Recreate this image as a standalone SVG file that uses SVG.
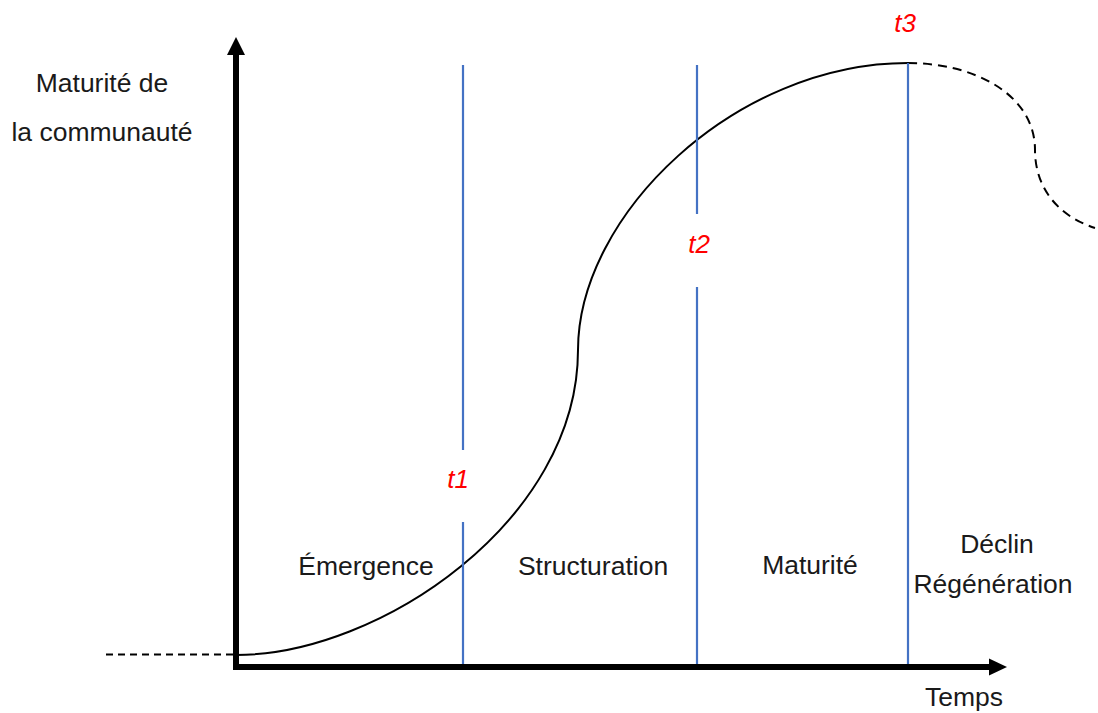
<svg xmlns="http://www.w3.org/2000/svg" width="1098" height="713" viewBox="0 0 1098 713">
<style>
.axis{stroke:#000;stroke-width:6;fill:none}
.head{fill:#000}
.curve{stroke:#000;stroke-width:2;fill:none}
.dash{stroke:#000;stroke-width:2;fill:none;stroke-dasharray:9 6}
.dashl{stroke:#000;stroke-width:2;fill:none;stroke-dasharray:7 5}
.tline{stroke:#4472C4;stroke-width:2.2;fill:none}
.lbl{font-family:"Liberation Sans",Arial,sans-serif;font-size:26.5px;fill:#1a1a1a;text-anchor:middle}
.tlbl{font-family:"Liberation Sans",Arial,sans-serif;font-size:26px;font-style:italic;fill:#FF0000;text-anchor:middle}
</style>
<rect width="1098" height="713" fill="#fff"/>
<g id="connectors">
  <path class="dashl" d="M106,654.5 H236"/>
  <path class="curve" d="M236,655 C380,655 578,520 578,350 C578,215 735,63 908,63"/>
  <path class="dash" d="M908,63 C975,63 1035,95 1035,150 C1035,185 1055,215 1095,228"/>
  <path class="tline" d="M463,65 V450 M463,522 V667"/>
  <path class="tline" d="M697,65 V214 M697,287 V667"/>
  <path class="tline" d="M908,63 V667"/>
</g>
<g id="axes">
  <path class="axis" d="M236,54 V670 M233,667 H990"/>
  <polygon class="head" points="236,37 245,55 227,55"/>
  <polygon class="head" points="1007,667 989,658.5 989,675.5"/>
</g>
<g id="y-label">
  <text class="lbl" x="102" y="92">Maturité de</text>
  <text class="lbl" x="102" y="141">la communauté</text>
</g>
<g id="x-label">
  <text class="lbl" x="964" y="706">Temps</text>
</g>
<g id="phase-emergence"><text class="lbl" x="366" y="575">Émergence</text></g>
<g id="phase-structuration"><text class="lbl" x="593" y="575">Structuration</text></g>
<g id="phase-maturite"><text class="lbl" x="810" y="574">Maturité</text></g>
<g id="phase-declin">
  <text class="lbl" x="997" y="553">Déclin</text>
  <text class="lbl" x="993" y="593">Régénération</text>
</g>
<g id="t1"><text class="tlbl" x="458" y="488">t1</text></g>
<g id="t2"><text class="tlbl" x="699" y="253">t2</text></g>
<g id="t3"><text class="tlbl" x="905" y="32">t3</text></g>
</svg>
